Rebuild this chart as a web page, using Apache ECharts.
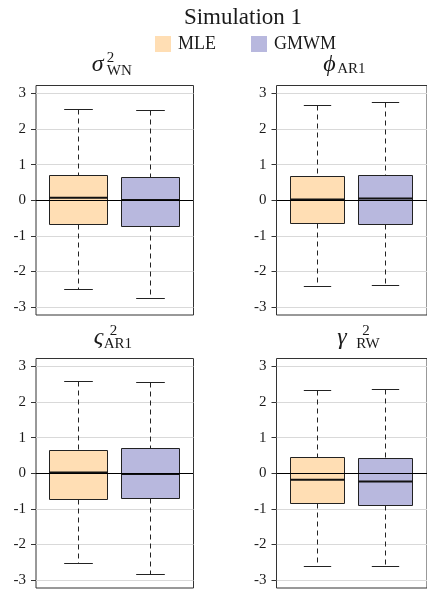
<!DOCTYPE html>
<html>
<head>
<meta charset="utf-8">
<script src="https://cdn.jsdelivr.net/npm/echarts@6/dist/echarts.min.js"></script>
<style>
  html, body { margin: 0; padding: 0; background: #ffffff; }
  #chart { width: 427px; height: 591px; }
</style>
</head>
<body>
<div id="chart"></div>
<script>
// Box summaries per panel: [lower whisker, Q1, median, Q3, upper whisker]
const methods = ['MLE', 'GMWM'];
const mleSigmaWN = [-2.52, -0.67, 0.07, 0.70, 2.56];
const gmwmSigmaWN = [-2.76, -0.73, 0.01, 0.63, 2.51];
const mlePhiAR1 = [-2.43, -0.64, 0.02, 0.68, 2.65];
const gmwmPhiAR1 = [-2.39, -0.68, 0.05, 0.70, 2.75];
const mleVarsigmaAR1 = [-2.55, -0.73, 0.02, 0.63, 2.58];
const gmwmVarsigmaAR1 = [-2.84, -0.72, -0.02, 0.70, 2.55];
const mleGammaRW = [-2.63, -0.86, -0.18, 0.45, 2.32];
const gmwmGammaRW = [-2.63, -0.92, -0.23, 0.41, 2.36];
const yTicks = [-3, -2, -1, 0, 1, 2, 3];

// Panel headings: symbol, superscript, subscript
const panelHeads = [
  { sym: 'σ', sup: '2', sub: 'WN' },
  { sym: 'ϕ', sup: '', sub: 'AR1' },
  { sym: 'ς', sup: '2', sub: 'AR1' },
  { sym: 'γ', sup: '2', sub: 'RW' }
];
const panelData = [
  [mleSigmaWN, gmwmSigmaWN],
  [mlePhiAR1, gmwmPhiAR1],
  [mleVarsigmaAR1, gmwmVarsigmaAR1],
  [mleGammaRW, gmwmGammaRW]
];

const COLORS = { MLE: '#FFDEB4', GMWM: '#B8B8DE' };
const SERIF = '"Liberation Serif", "DejaVu Serif", serif';
const TEXT = '#1a1a1a';

// Panel geometry
const PANEL_W = 157.5;
const PANEL_H = 229.5;
const COL_X = [36, 276.5];
const ROW_Y = [85.5, 358.5];
const Y_MAX = 3.225;
const BOX_W = 0.8;
const CAP_W = 0.4;

// Heading glyph offsets (px from the panel centre): symbol, superscript, subscript
const HEAD_OFFSETS = [
  [-23, -8, -8],
  [-32, 0, -18],
  [-21, -5, -11],
  [-18, 7, 1]
];

function crisp(v) { return Math.round(v - 0.5) + 0.5; }

function renderBox(params, api) {
  const x = api.value(0);
  const lo = api.value(1), q1 = api.value(2), med = api.value(3), q3 = api.value(4), hi = api.value(5);
  const pt = (v) => api.coord([x, v]);
  const half = api.size([BOX_W, 0])[0] / 2;
  const capHalf = api.size([CAP_W, 0])[0] / 2;
  const cx = crisp(pt(hi)[0]);
  const yHi = crisp(pt(hi)[1]), yQ3 = crisp(pt(q3)[1]), yMed = pt(med)[1];
  const yQ1 = crisp(pt(q1)[1]), yLo = crisp(pt(lo)[1]);
  const left = crisp(cx - half), right = crisp(cx + half);
  const dashStyle = { stroke: '#222', lineWidth: 1, lineDash: [5, 4], fill: null };
  const solid = { stroke: '#222', lineWidth: 1, fill: null };
  return {
    type: 'group',
    children: [
      { type: 'line', shape: { x1: cx, y1: yHi, x2: cx, y2: yQ3 }, style: dashStyle },
      { type: 'line', shape: { x1: cx, y1: yQ1, x2: cx, y2: yLo }, style: dashStyle },
      { type: 'line', shape: { x1: cx - capHalf, y1: yHi, x2: cx + capHalf, y2: yHi }, style: solid },
      { type: 'line', shape: { x1: cx - capHalf, y1: yLo, x2: cx + capHalf, y2: yLo }, style: solid },
      { type: 'rect', shape: { x: left, y: yQ3, width: right - left, height: yQ1 - yQ3 },
        style: { fill: api.visual('color'), stroke: '#222', lineWidth: 1 } },
      { type: 'line', shape: { x1: left, y1: yMed, x2: right, y2: yMed },
        style: { stroke: '#111', lineWidth: 2 } }
    ]
  };
}

const grids = [], xAxes = [], yAxes = [], series = [], graphics = [];

panelData.forEach((pair, i) => {
  const col = i % 2, row = Math.floor(i / 2);
  grids.push({
    left: COL_X[col], top: ROW_Y[row], width: PANEL_W, height: PANEL_H,
    show: true, borderColor: '#333', borderWidth: 1, backgroundColor: 'transparent'
  });
  xAxes.push({ type: 'value', gridIndex: i, min: 0.4, max: 2.6, show: false });
  yAxes.push({
    type: 'value', gridIndex: i, min: -Y_MAX, max: Y_MAX,
    axisLine: { show: false },
    axisTick: { show: true, length: 5, customValues: yTicks, lineStyle: { color: '#333', width: 1 } },
    axisLabel: { customValues: yTicks, margin: 10, fontFamily: SERIF, fontSize: 15, color: TEXT },
    splitLine: { show: true, lineStyle: { color: '#d9d9d9', width: 1 } }
  });
  pair.forEach((vals, m) => {
    const name = methods[m];
    const s = {
      type: 'custom', name: name, xAxisIndex: i, yAxisIndex: i,
      itemStyle: { color: COLORS[name] },
      encode: { x: 0, y: [1, 2, 3, 4, 5] },
      data: [[m + 1].concat(vals)],
      renderItem: renderBox,
      z: 3
    };
    if (m === 1) {
      s.markLine = {
        silent: true, symbol: 'none', z: 10,
        label: { show: false },
        lineStyle: { color: '#000', width: 1, type: 'solid' },
        data: [{ yAxis: 0 }]
      };
    }
    series.push(s);
  });

  // Panel heading: symbol with stacked super/subscript, placed by baseline
  const h = panelHeads[i];
  const off = HEAD_OFFSETS[i];
  const cxp = COL_X[col] + PANEL_W / 2;
  const top = ROW_Y[row];
  const symSize = 24, scrSize = 15;
  const mid = (baseline, fs) => baseline - 0.34 * fs;
  const children = [];
  children.push({ type: 'text', x: cxp + off[0], y: mid(top - 12.5, symSize),
    style: { text: h.sym, fontFamily: SERIF, fontStyle: 'italic', fontSize: symSize, fill: TEXT,
      align: 'left', verticalAlign: 'middle' } });
  if (h.sup) {
    children.push({ type: 'text', x: cxp + off[1], y: mid(top - 22.5, scrSize),
      style: { text: h.sup, fontFamily: SERIF, fontSize: scrSize, fill: TEXT, align: 'left', verticalAlign: 'middle' } });
  }
  children.push({ type: 'text', x: cxp + off[2], y: mid(top - (h.sup ? 9.5 : 11.5), scrSize),
    style: { text: h.sub, fontFamily: SERIF, fontSize: scrSize, fill: TEXT, align: 'left', verticalAlign: 'middle' } });
  graphics.push({ type: 'group', children: children });
});

const chart = echarts.init(document.getElementById('chart'), null, { renderer: 'canvas' });
chart.setOption({
  backgroundColor: '#ffffff',
  animation: false,
  title: {
    text: 'Simulation 1', left: 238, top: 1, textAlign: 'center',
    textStyle: { fontFamily: SERIF, fontSize: 23, fontWeight: 'normal', color: TEXT }
  },
  legend: {
    left: 155, top: 35, padding: 0, icon: 'rect', itemWidth: 16, itemHeight: 16, itemGap: 35,
    textStyle: { fontFamily: SERIF, fontSize: 18, color: TEXT, padding: [0, 0, 0, 2] },
    data: methods.map((n) => ({ name: n, itemStyle: { color: COLORS[n], borderWidth: 0 } }))
  },
  grid: grids,
  xAxis: xAxes,
  yAxis: yAxes,
  series: series,
  graphic: graphics
});
</script>
</body>
</html>
